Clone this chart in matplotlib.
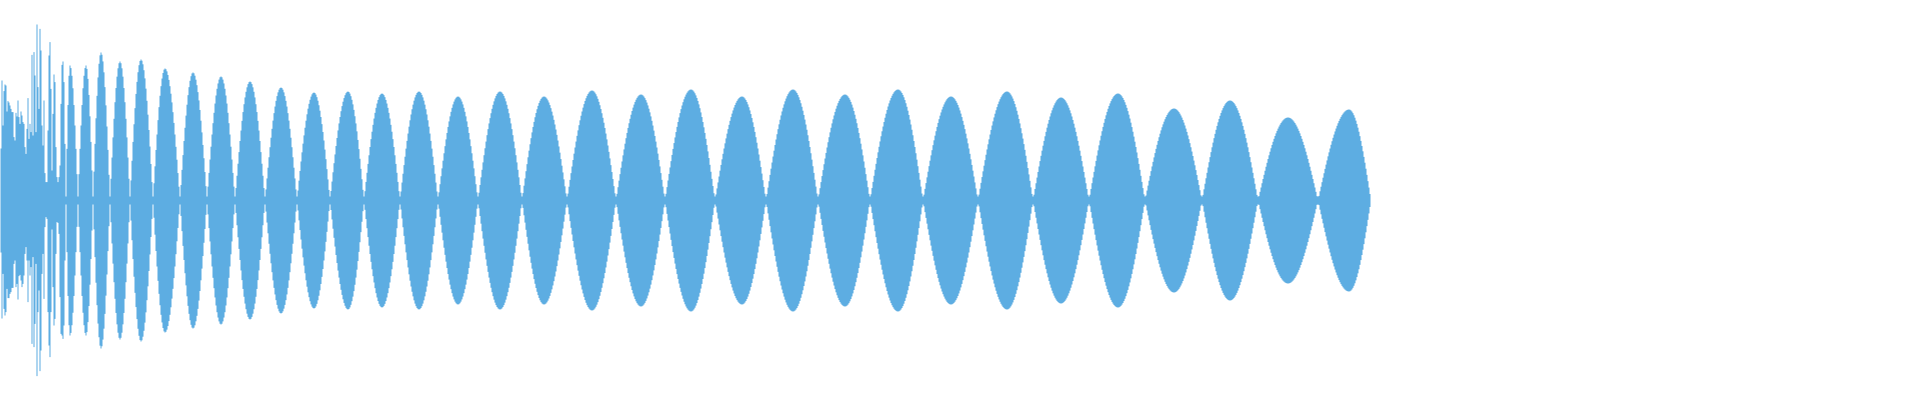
"""Waveform overview: min/max envelope per column, drawn as a filled band."""

import numpy as np
import matplotlib.pyplot as plt

WAVE_COLOR = '#5dade2'

# attack: per-column max / min of the noisy onset (columns 0..64)
onset_top = [0.26, 0.60, 0.375, 0.547, 0.58, 0.575, 0.445, 0.497, 0.49, 0.475,
             0.458, 0.442, 0.442, 0.317, 0.30, 0.438, 0.42, 0.50, 0.417, 0.383,
             0.445, 0.425, 0.392, 0.383, 0.267, 0.233, 0.358, 0.512, 0.308, 0.383,
             0.342, 0.728, 0.325, 0.742, 0.625, 0.342, 0.88, 0.567, 0.458, 0.858,
             0.75, 0.375, 0.275, 0.50, 0.137, 0.092, 0.092, 0.35, 0.725, 0.792,
             0.558, 0.15, 0.433, 0.63, 0.592, 0.267, 0.117, 0.092, 0.117, 0.175,
             0.483, 0.678, 0.695, 0.592, 0.283]
onset_bottom = [-0.26, -0.59, -0.367, -0.542, -0.575, -0.558, -0.442, -0.488, -0.488, -0.467,
                -0.458, -0.437, -0.437, -0.317, -0.30, -0.433, -0.417, -0.495, -0.378, -0.372,
                -0.40, -0.433, -0.417, -0.375, -0.267, -0.233, -0.30, -0.508, -0.30, -0.375,
                -0.333, -0.717, -0.283, -0.733, -0.617, -0.317, -0.878, -0.558, -0.45, -0.853,
                -0.75, -0.367, -0.267, -0.492, -0.133, -0.083, -0.092, -0.558, -0.725, -0.783,
                -0.558, -0.145, -0.433, -0.625, -0.592, -0.267, -0.108, -0.112, -0.167, -0.483,
                -0.667, -0.675, -0.692, -0.625, -0.30]

# sustained part: beat lobes (start column, peak column, peak amplitude)
lobe_start = [65, 77, 92, 109, 129, 152, 179, 206, 234, 264, 296, 329, 363, 399,
              437, 477, 521, 566, 615, 664, 714, 765, 817, 869, 922, 977, 1032,
              1088, 1144, 1201, 1257, 1317]
lobe_peak_at = [69, 85, 100, 119, 140, 164, 192, 220, 249, 280, 313, 347, 381, 418,
                457, 499, 543, 591, 640, 690, 741, 792, 844, 897, 950, 1006, 1060,
                1117, 1173, 1229, 1287, 1348]
lobe_peak = [0.675, 0.675, 0.74, 0.695, 0.705, 0.66, 0.64, 0.62, 0.595, 0.565,
             0.54, 0.545, 0.535, 0.545, 0.52, 0.545, 0.52, 0.55, 0.53, 0.555,
             0.52, 0.555, 0.53, 0.555, 0.52, 0.545, 0.515, 0.535, 0.46, 0.50,
             0.415, 0.455]
wave_end = 1370
node_floor = 0.02

# build the column envelope
top = list(onset_top)
bottom = list(onset_bottom)
ends = lobe_start[1:] + [wave_end]
for s, p, e, a in zip(lobe_start, lobe_peak_at, ends, lobe_peak):
    for c in range(s, e):
        if c <= p:
            t = (c - s) / (p - s)
        else:
            t = (e - c) / (e - p)
        v = max(a * np.sin(np.pi / 2 * t), node_floor)
        top.append(v)
        bottom.append(-v)

x = np.arange(len(top) + 1)
top = np.append(top, top[-1])
bottom = np.append(bottom, bottom[-1])

fig = plt.figure(figsize=(19.2, 4), dpi=100)
ax = fig.add_axes([0, 0, 1, 1])
ax.fill_between(x, bottom, top, step='post', color=WAVE_COLOR, linewidth=0)
ax.set_xlim(0, 1920)
ax.set_ylim(-1, 1)
ax.axis('off')

fig.savefig('out.png', dpi=100)
